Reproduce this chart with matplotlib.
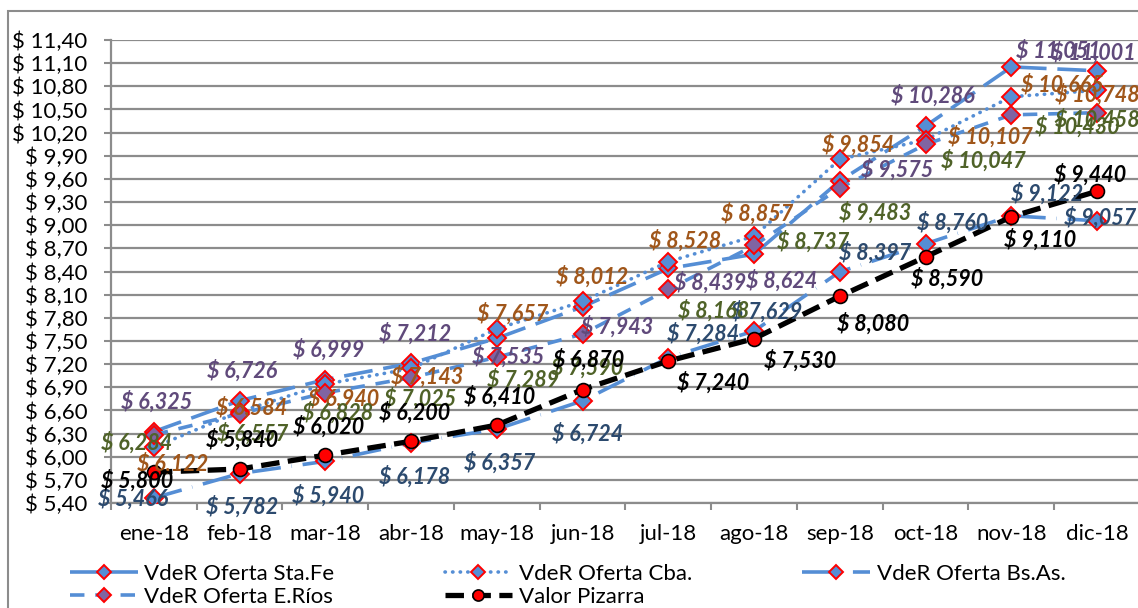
import numpy as np
import matplotlib
matplotlib.use("Agg")
import matplotlib.pyplot as plt
from matplotlib.patches import Rectangle

plt.rcParams['font.family'] = ['Lato', 'DejaVu Sans']

# Data
months = ['ene-18', 'feb-18', 'mar-18', 'abr-18', 'may-18', 'jun-18',
          'jul-18', 'ago-18', 'sep-18', 'oct-18', 'nov-18', 'dic-18']
sta_fe = [6.325, 6.726, 6.999, 7.212, 7.535, 7.943, 8.439, 8.624, 9.575, 10.286, 11.051, 11.001]
cba = [6.122, 6.584, 6.940, 7.143, 7.657, 8.012, 8.528, 8.857, 9.854, 10.107, 10.665, 10.748]
bs_as = [5.466, 5.782, 5.940, 6.178, 6.357, 6.724, 7.284, 7.629, 8.397, 8.760, 9.122, 9.057]
e_rios = [6.284, 6.557, 6.828, 7.025, 7.289, 7.590, 8.168, 8.737, 9.483, 10.047, 10.430, 10.458]
pizarra = [5.800, 5.840, 6.020, 6.200, 6.410, 6.870, 7.240, 7.530, 8.080, 8.590, 9.110, 9.440]
y_ticks = [5.40, 5.70, 6.00, 6.30, 6.60, 6.90, 7.20, 7.50, 7.80, 8.10, 8.40,
           8.70, 9.00, 9.30, 9.60, 9.90, 10.20, 10.50, 10.80, 11.10, 11.40]

# label offsets (pixels, x right / y down) for each point
off_sta_fe = [(3, -30), (3, -30), (3, -30), (4, -30), (11, 18), (35, 20),
              (42, 14), (28, 26), (57, -11), (7, -30), (47, -16), (-4, -18)]
off_cba = [(19, 16), (12, -4), (18, 14), (16, 8), (16, -15), (10, -25),
           (17, -21), (3, -23), (18, -15), (65, -3), (51, -12), (0, 4)]
off_bs_as = [(-21, 1), (3, 33), (3, 34), (4, 34), (3, 33), (5, 33),
             (35, -24), (13, -19), (35, -19), (27, -21), (36, -22), (3, -3)]
off_e_rios = [(-17, 8), (13, 20), (12, 20), (9, 21), (26, 22), (5, 34),
              (45, 21), (59, -4), (35, 25), (58, 16), (66, 12), (0, 7)]
off_pizarra = [(-17, 8), (3, -29), (3, -29), (4, -29), (3, -29), (6, -30),
               (45, 22), (46, 22), (33, 27), (22, 22), (29, 23), (-7, -17)]

blue = '#558ED5'
grid_gray = '#8c8c8c'

fig = plt.figure(figsize=(11.38, 6.08), dpi=100)
ax = fig.add_axes([111/1138, 1-503/608, 1029/1138, 463/608])
x = np.arange(len(months))

series = [
    ('VdeR Oferta Sta.Fe', sta_fe, (0, (8, 3)), blue, '#604A7B', off_sta_fe),
    ('VdeR Oferta Cba.', cba, (0, (0.1, 2)), blue, '#A0561A', off_cba),
    ('VdeR Oferta Bs.As.', bs_as, (0, (8, 3, 0.1, 3)), blue, '#2C4A6E', off_bs_as),
    ('VdeR Oferta E.Ríos', e_rios, (0, (4, 3)), '#8064A2', '#4F6228', off_e_rios),
]

handles = {}
for i, (name, vals, ls, fill, tcol, offs) in enumerate(series):
    ln, = ax.plot(x, vals, color=blue, lw=2.6, linestyle=ls,
                  dash_capstyle='round' if i == 1 else 'butt',
                  marker='D', markersize=9.5, markerfacecolor=fill,
                  markeredgecolor='red', markeredgewidth=1.4, zorder=3 + i,
                  label=name)
    handles[name] = ln

piz, = ax.plot(x, pizarra, color='black', lw=3.8, linestyle=(0, (3.5, 1.6)),
               marker='o', markersize=10, markerfacecolor='red',
               markeredgecolor='black', markeredgewidth=1.2, zorder=8,
               label='Valor Pizarra')

label_sets = [(s[1], s[4], s[5]) for s in series] + [(pizarra, 'black', off_pizarra)]
for k, (vals, tcol, offs) in enumerate(label_sets):
    for i, v in enumerate(vals):
        txt = '$ ' + f'{v:.3f}'.replace('.', ',')
        ax.annotate(txt, (x[i], v), xytext=(offs[i][0], -offs[i][1]),
                    textcoords='offset pixels', ha='center', va='center',
                    fontsize=15.5, fontweight='bold', fontstyle='italic',
                    color=tcol, zorder=10 + k, annotation_clip=False)

ax.set_xlim(-0.5, 11.5)
ax.set_ylim(5.40, 11.40)
ax.set_yticks(y_ticks)
ax.set_yticklabels(['$ ' + f'{v:.2f}'.replace('.', ',') for v in y_ticks])
ax.set_xticks(x)
ax.set_xticklabels(months)
ax.set_xticks(np.arange(-0.5, 12, 1), minor=True)
ax.tick_params(axis='x', which='major', length=0, pad=15, labelsize=16)
ax.tick_params(axis='x', which='minor', length=5, width=1.5, color=grid_gray)
ax.tick_params(axis='y', length=5, width=1.5, color=grid_gray, pad=12, labelsize=16)
ax.yaxis.grid(True, color=grid_gray, lw=1.6)
ax.set_axisbelow(True)
for side in ['top', 'right']:
    ax.spines[side].set_visible(False)
for side in ['left', 'bottom']:
    ax.spines[side].set_color(grid_gray)
    ax.spines[side].set_linewidth(1.6)

order = ['VdeR Oferta Sta.Fe', 'VdeR Oferta E.Ríos', 'VdeR Oferta Cba.', None, 'VdeR Oferta Bs.As.']
leg_handles = [handles[n] if n else piz for n in order]
leg_labels = [n if n else 'Valor Pizarra' for n in order]
fig.legend(leg_handles, leg_labels, ncol=3, loc='center left',
           bbox_to_anchor=(70/1138, 1-585.5/608), frameon=False, borderpad=0,
           borderaxespad=0, fontsize=16, handlelength=3.05, handletextpad=0.3,
           columnspacing=4.95, labelspacing=0.15, numpoints=1, markerscale=0.8)

# outer chart frame (partially cropped)
fig.add_artist(Rectangle((8/1138, -0.1), 1.2, 1.1 - 11/608, transform=fig.transFigure,
                         fill=False, ec=grid_gray, lw=1.5))

fig.savefig('out.png', dpi=100)
